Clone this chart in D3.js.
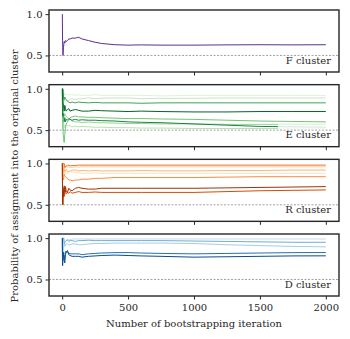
<!DOCTYPE html>
<html><head><meta charset="utf-8">
<script src="https://cdn.jsdelivr.net/npm/d3@7"></script>
<style>body{margin:0;background:#fff}svg{display:block}</style>
</head><body>
<script>
// ---- data ----
const iters = [1,3,6,10,15,20,25,30,40,50,60,75,100,125,150,200,250,300,400,500,600,750,1000,1250,1500,1750,2000];
const xTicks = [0,500,1000,1500,2000];
const yTicks = [0.5,1.0];
const clusterNames = ["F cluster","E cluster","R cluster","D cluster"];

const seriesF = [
  [1,0.67,0.5,0.6,0.67,0.65,0.68,0.67,0.68,0.7,0.7,0.71,0.71,0.72,0.7,0.68,0.66,0.645,0.63,0.625,0.628,0.625,0.625,0.628,0.63,0.628,0.63]
];
const seriesE = [
  [1,1,1,0.9,0.93,0.95,0.92,0.93,0.93,0.92,0.93,0.93,0.92,0.93,0.92,0.92,0.93,0.92,0.92,0.92,0.92,0.915,0.92,0.92,0.92,0.92,0.92],
  [1,1,0.83,0.9,0.87,0.85,0.88,0.87,0.85,0.86,0.87,0.88,0.87,0.88,0.88,0.89,0.88,0.885,0.89,0.89,0.88,0.885,0.885,0.89,0.89,0.89,0.89],
  [1,0.67,0.5,0.6,0.53,0.55,0.56,0.57,0.55,0.56,0.55,0.54,0.55,0.54,0.545,0.54,0.535,0.535,0.53,0.53,0.525,0.525,0.52,0.52,0.52,0.52,0.52],
  [1,1,0.83,0.7,0.67,0.7,0.68,0.67,0.65,0.64,0.63,0.61,0.6,0.6,0.59,0.6,0.59,0.59,0.585,0.58,0.58,0.575,0.575,0.57,0.57,0.57,0.57],
  [1,0.67,0.5,0.4,0.35,0.45,0.52,0.57,0.6,0.62,0.65,0.66,0.67,0.66,0.66,0.655,0.655,0.65,0.645,0.64,0.64,0.635,0.63,0.62,0.61,0.605,0.6],
  [1,1,1,0.9,0.87,0.9,0.88,0.87,0.85,0.84,0.83,0.84,0.83,0.84,0.835,0.83,0.835,0.83,0.83,0.83,0.825,0.83,0.83,0.83,0.83,0.83,0.83],
  [1,0.67,0.67,0.7,0.6,0.65,0.6,0.63,0.62,0.64,0.63,0.62,0.63,0.62,0.625,0.62,0.62,0.615,0.61,0.6,0.595,0.59,0.575,0.56,0.545,0.54,0.535],
  [1,1,0.83,0.8,0.73,0.8,0.76,0.73,0.75,0.76,0.73,0.74,0.75,0.74,0.73,0.73,0.74,0.735,0.73,0.725,0.73,0.725,0.72,0.72,0.725,0.725,0.725]
];
const seriesR = [
  [1,1,0.83,0.9,0.87,0.9,0.88,0.87,0.88,0.9,0.9,0.9,0.89,0.89,0.88,0.88,0.885,0.88,0.88,0.88,0.88,0.88,0.88,0.88,0.88,0.88,0.88],
  [1,1,1,0.9,0.93,0.95,0.96,0.97,0.95,0.96,0.95,0.95,0.96,0.955,0.96,0.96,0.96,0.96,0.96,0.96,0.96,0.96,0.96,0.96,0.96,0.96,0.96],
  [1,1,1,0.9,0.93,0.9,0.92,0.93,0.9,0.9,0.91,0.92,0.92,0.91,0.915,0.91,0.915,0.91,0.91,0.91,0.915,0.91,0.91,0.915,0.915,0.92,0.92],
  [1,1,0.83,0.8,0.87,0.85,0.84,0.83,0.82,0.8,0.8,0.79,0.8,0.8,0.81,0.81,0.82,0.82,0.83,0.83,0.83,0.83,0.83,0.835,0.84,0.84,0.84],
  [1,1,1,1,1,0.95,0.96,0.97,0.975,0.98,0.97,0.975,0.975,0.98,0.98,0.98,0.98,0.98,0.98,0.98,0.98,0.98,0.98,0.98,0.98,0.98,0.98],
  [1,0.67,0.5,0.7,0.6,0.65,0.68,0.63,0.65,0.64,0.66,0.64,0.65,0.66,0.65,0.65,0.655,0.65,0.65,0.65,0.65,0.65,0.65,0.66,0.67,0.675,0.68],
  [1,0.5,0.67,0.6,0.73,0.65,0.72,0.67,0.65,0.7,0.68,0.67,0.7,0.71,0.7,0.69,0.69,0.7,0.7,0.7,0.7,0.7,0.7,0.705,0.71,0.715,0.72]
];
const seriesD = [
  [1,1,1,1,1,0.95,0.96,0.97,0.98,0.98,0.98,0.99,0.99,0.99,0.99,0.99,0.99,0.99,0.99,0.99,0.99,0.99,0.99,0.99,0.99,0.99,0.99],
  [1,1,0.83,0.9,0.93,0.9,0.92,0.93,0.93,0.92,0.92,0.93,0.93,0.92,0.92,0.93,0.935,0.935,0.94,0.94,0.94,0.94,0.935,0.92,0.91,0.9,0.895],
  [1,1,1,1,0.93,0.95,0.96,0.97,0.98,0.96,0.97,0.97,0.96,0.97,0.97,0.975,0.97,0.97,0.97,0.97,0.97,0.97,0.965,0.96,0.955,0.95,0.95],
  [1,0.67,0.83,0.8,0.73,0.8,0.84,0.83,0.83,0.82,0.81,0.81,0.81,0.81,0.8,0.81,0.815,0.82,0.825,0.825,0.82,0.815,0.81,0.815,0.82,0.825,0.826],
  [1,0.67,0.83,0.8,0.73,0.7,0.8,0.83,0.85,0.8,0.79,0.78,0.78,0.78,0.77,0.78,0.785,0.79,0.795,0.79,0.785,0.78,0.77,0.775,0.78,0.785,0.786]
];

// ---- styling (separate from data) ----
const panels = [
  {series: seriesF, interp: d3.interpolatePurples, shades: [0.85]},
  {series: seriesE, interp: d3.interpolateGreens, shades: [0.15,0.25,0.3,0.4,0.5,0.65,0.78,0.9]},
  {series: seriesR, interp: d3.interpolateOranges, shades: [0.15,0.25,0.35,0.5,0.6,0.75,0.9]},
  {series: seriesD, interp: d3.interpolateBlues, shades: [0.25,0.35,0.5,0.75,0.9]}
];

const W = 350, H = 339;
const left = 49, right = 339, top0 = 10, ph = 62, step = 74.67;
const font = "'DejaVu Serif', serif";
const fs = 10;
const ink = "#262626";

const svg = d3.select("body").append("svg").attr("width", W).attr("height", H);
const x = d3.scaleLinear().domain([-100, 2100]).range([left, right]);

panels.forEach((p, i) => {
  const t = top0 + i * step;
  const y = d3.scaleLinear().domain([0.3, 1.05]).range([t + ph, t]);
  const g = svg.append("g");
  const clipId = "clip" + i;
  g.append("clipPath").attr("id", clipId).append("rect")
    .attr("x", left).attr("y", t).attr("width", right - left).attr("height", ph);

  const line = d3.line().x((d, k) => x(iters[k])).y(d => y(d));
  const lg = g.append("g").attr("clip-path", `url(#${clipId})`);
  p.series.forEach((s, k) => {
    lg.append("path").datum(s).attr("d", line)
      .attr("fill", "none").attr("stroke", p.interp(p.shades[k]))
      .attr("stroke-width", 1).attr("stroke-linejoin", "round");
  });

  // legend box (semi-transparent)
  const bw = 58, bh = 18.5;
  g.append("rect").attr("x", right - 3 - bw).attr("y", t + ph - 4 - bh)
    .attr("width", bw).attr("height", bh).attr("fill", "#fff").attr("fill-opacity", 0.8);

  // reference line at 0.5
  g.append("line").attr("x1", left).attr("x2", right).attr("y1", y(0.5)).attr("y2", y(0.5))
    .attr("stroke", "#8a8a8a").attr("stroke-width", 0.8).attr("stroke-dasharray", "2,1.5");

  g.append("text").attr("x", right - 8).attr("y", t + ph - 8.5)
    .attr("text-anchor", "end").attr("font-family", font).attr("font-size", fs)
    .attr("fill", ink).text(clusterNames[i]);

  // axes
  const ya = g.append("g").attr("transform", `translate(${left},0)`)
    .call(d3.axisLeft(y).tickValues(yTicks).tickFormat(d3.format(".1f")).tickSize(3.5).tickPadding(3));
  const xa = g.append("g").attr("transform", `translate(0,${t + ph})`)
    .call(d3.axisBottom(x).tickValues(xTicks).tickSize(3.5).tickPadding(4)
      .tickFormat(i === panels.length - 1 ? d3.format("d") : () => ""));
  [ya, xa].forEach(a => {
    a.select(".domain").remove();
    a.selectAll("line").attr("stroke", ink).attr("stroke-width", 1);
    a.selectAll("text").attr("font-family", font).attr("font-size", fs).attr("fill", ink);
  });

  g.append("rect").attr("x", left).attr("y", t).attr("width", right - left).attr("height", ph)
    .attr("fill", "none").attr("stroke", ink).attr("stroke-width", 1.4);
});

svg.append("text").attr("x", (left + right) / 2).attr("y", 327)
  .attr("text-anchor", "middle").attr("font-family", font).attr("font-size", fs)
  .attr("fill", ink).text("Number of bootstrapping iteration");

svg.append("text").attr("transform", `translate(18,176) rotate(-90)`)
  .attr("text-anchor", "middle").attr("font-family", font).attr("font-size", fs)
  .attr("fill", ink).text("Probability of assignment into the original cluster");
</script>
</body></html>
